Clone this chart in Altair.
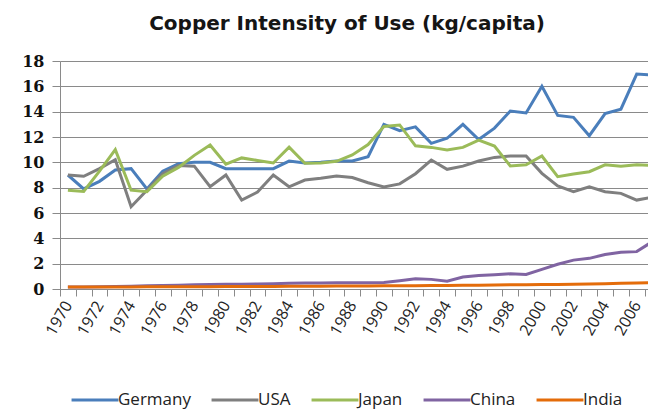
import json

import altair as alt
import pandas as pd

# Annual copper use per person, kg/capita
years = list(range(1970, 2008))

germany = [9.0, 7.9, 8.5, 9.4, 9.5, 7.9, 9.3, 9.9, 10.0, 10.0,
           9.5, 9.5, 9.5, 9.5, 10.1, 9.95, 10.0, 10.1, 10.1, 10.45,
           13.0, 12.5, 12.8, 11.5, 11.9, 13.0, 11.8, 12.7, 14.05, 13.9,
           16.0, 13.7, 13.55, 12.1, 13.85, 14.2, 16.97, 16.9]
usa = [9.0, 8.9, 9.5, 10.2, 6.5, 7.8, 9.1, 9.75, 9.7, 8.07,
       9.0, 7.02, 7.65, 9.0, 8.07, 8.6, 8.74, 8.92, 8.8, 8.39,
       8.05, 8.3, 9.1, 10.18, 9.45, 9.7, 10.1, 10.39, 10.5, 10.5,
       9.13, 8.13, 7.68, 8.07, 7.68, 7.55, 7.02, 7.25]
japan = [7.8, 7.7, 9.3, 11.0, 7.8, 7.68, 8.9, 9.6, 10.55, 11.37,
         9.85, 10.35, 10.15, 9.95, 11.2, 9.93, 9.95, 10.08, 10.58, 11.4,
         12.83, 12.95, 11.3, 11.18, 10.97, 11.18, 11.76, 11.29, 9.71, 9.8,
         10.5, 8.87, 9.08, 9.26, 9.8, 9.7, 9.8, 9.75]
china = [0.15, 0.16, 0.18, 0.2, 0.22, 0.25, 0.27, 0.3, 0.33, 0.35,
         0.37, 0.38, 0.4, 0.42, 0.45, 0.47, 0.48, 0.5, 0.5, 0.5,
         0.52, 0.65, 0.8, 0.76, 0.62, 0.95, 1.06, 1.12, 1.2, 1.15,
         1.55, 1.95, 2.28, 2.42, 2.72, 2.9, 2.95, 3.75]
india = [0.15, 0.15, 0.15, 0.16, 0.16, 0.17, 0.17, 0.18, 0.18, 0.18,
         0.19, 0.19, 0.2, 0.2, 0.21, 0.22, 0.22, 0.23, 0.24, 0.24,
         0.25, 0.25, 0.26, 0.27, 0.28, 0.3, 0.3, 0.32, 0.33, 0.33,
         0.35, 0.36, 0.38, 0.4, 0.42, 0.45, 0.48, 0.5]

countries = ["Germany", "USA", "Japan", "China", "India"]
colors = ["#4a7ebb", "#7f7f7f", "#9bbb59", "#8064a2", "#e46c0a"]
series = [germany, usa, japan, china, india]

year_labels = [str(y) for y in range(1970, 2007, 2)]
y_ticks = list(range(0, 19, 2))

rows = []
for name, values in zip(countries, series):
    for yr, v in zip(years, values):
        rows.append({"Year": str(yr), "Country": name, "Value": v})
df = pd.DataFrame(rows)

STEP = 15.8  # pixels per year band
GRID = "#8a8a8a"

label_expr = "indexof(" + json.dumps(year_labels) + ", datum.value) >= 0 ? datum.label : ''"

chart = (
    alt.Chart(
        df,
        title=alt.Title(
            "Copper Intensity of Use (kg/capita)",
            font="DejaVu Sans",
            fontSize=20,
            fontWeight="bold",
            color="#151515",
            anchor="middle",
            dx=-7,
            offset=19,
        ),
    )
    .mark_line(strokeWidth=3, clip=True)
    .encode(
        x=alt.X(
            "Year:O",
            sort=[str(y) for y in years],
            bandPosition=0.5,
            scale=alt.Scale(
                type="band",
                paddingInner=0,
                paddingOuter=0,
                range=[0, STEP * len(years)],
            ),
            axis=alt.Axis(
                title=None,
                tickBand="extent",
                labelExpr=label_expr,
                labelOverlap=False,
                labelAngle=300,
                labelAlign="right",
                labelBaseline="middle",
                labelFont="Open Sans",
                labelFontSize=16,
                labelColor="#222222",
                labelPadding=6,
                tickSize=7,
                tickColor=GRID,
                domainColor=GRID,
                grid=False,
            ),
        ),
        y=alt.Y(
            "Value:Q",
            scale=alt.Scale(domain=[0, 18], nice=False),
            axis=alt.Axis(
                title=None,
                values=y_ticks,
                grid=True,
                gridColor=GRID,
                domainColor=GRID,
                tickColor=GRID,
                tickSize=8,
                labelFont="DejaVu Serif",
                labelFontWeight="bold",
                labelFontSize=16,
                labelColor="#111111",
                labelPadding=8,
            ),
        ),
        color=alt.Color(
            "Country:N",
            scale=alt.Scale(domain=countries, range=colors),
            legend=alt.Legend(
                orient="none",
                legendX=10,
                legendY=314,
                direction="horizontal",
                title=None,
                symbolType="stroke",
                symbolSize=2200,
                symbolStrokeWidth=3,
                labelFont="Open Sans",
                labelFontSize=17,
                labelColor="#222222",
                columnPadding=14,
                labelOffset={"expr": "-2"},
                padding=0,
            ),
        ),
    )
    .properties(
        width=588,
        height=228,
        autosize=alt.AutoSizeParams(type="none"),
        padding={"left": 60, "top": 61, "right": 0, "bottom": 120},
        background="white",
    )
    .configure_view(stroke=None)
)

chart.save("out.html", embed_options={"renderer": "svg", "actions": False})
